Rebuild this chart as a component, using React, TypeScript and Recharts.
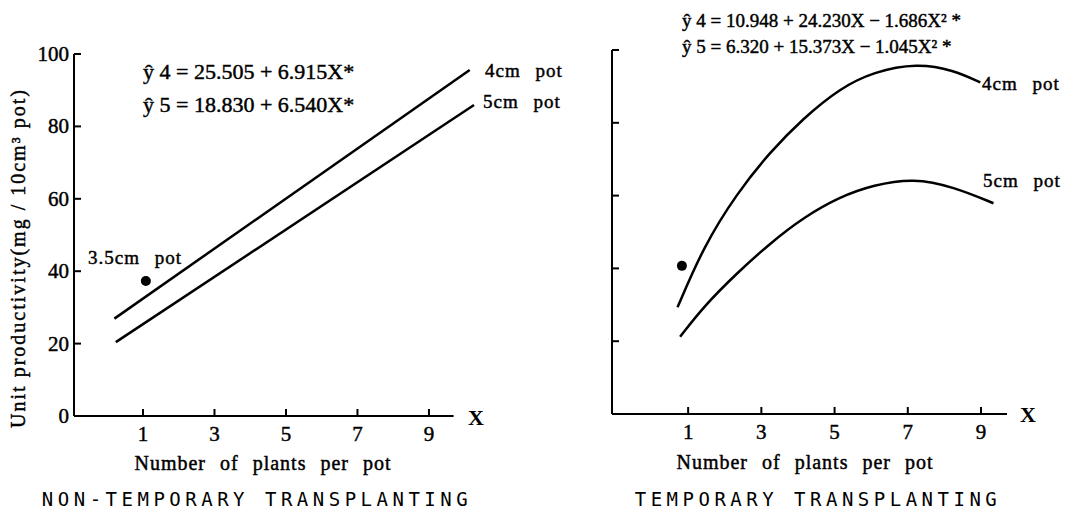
import { ComposedChart, Line, XAxis, YAxis, ReferenceLine, ReferenceDot } from 'recharts';

const serif = '"Liberation Serif", "DejaVu Serif", serif';
const mono = '"DejaVu Sans Mono", "Liberation Mono", monospace';

const xTicks = [1, 3, 5, 7, 9];
const yTicks = [0, 20, 40, 60, 80, 100];

// non-temporary transplanting (straight regression lines)
const nonTemp4 = [
  { x: 0.2, y: 26.9 },
  { x: 10.14, y: 95.6 },
];
const nonTemp5 = [
  { x: 0.24, y: 20.4 },
  { x: 10.26, y: 85.9 },
];
const nonTempDot = { x: 1.08, y: 37.3 };

// temporary transplanting (quadratic curves)
const temp4 = [
  { x: 0.71, y: 29.3 },
  { x: 1.42, y: 46.0 },
  { x: 2.33, y: 60.6 },
  { x: 3.24, y: 72.0 },
  { x: 4.15, y: 81.3 },
  { x: 5.15, y: 89.5 },
  { x: 6.06, y: 94.0 },
  { x: 7.25, y: 96.4 },
  { x: 8.25, y: 94.5 },
  { x: 8.98, y: 91.1 },
];
const temp5 = [
  { x: 0.78, y: 21.2 },
  { x: 1.42, y: 29.5 },
  { x: 2.33, y: 38.7 },
  { x: 3.24, y: 46.9 },
  { x: 4.15, y: 54.0 },
  { x: 5.15, y: 59.7 },
  { x: 6.06, y: 62.9 },
  { x: 7.16, y: 64.8 },
  { x: 8.25, y: 62.4 },
  { x: 9.34, y: 57.9 },
];
const tempDot = { x: 0.83, y: 40.7 };

const eqNonTemp = ['ŷ 4 = 25.505 + 6.915X*', 'ŷ 5 = 18.830 + 6.540X*'];
const eqTemp = ['ŷ 4 = 10.948 + 24.230X − 1.686X² *', 'ŷ 5 = 6.320 + 15.373X − 1.045X² *'];

// thin outline so the serif text looks as heavy as the scanned print
const ink = { stroke: '#000', strokeWidth: 0.45 };

const YTick = (p: any) => (
  <text x={p.x - 12} y={p.y} dy={7} textAnchor="end" fontFamily={serif} fontSize={21} fill="#000" {...ink}>
    {p.payload.value}
  </text>
);
const XTick = (p: any) => (
  <text x={p.x} y={p.y + 32} textAnchor="middle" fontFamily={serif} fontSize={21} fill="#000" {...ink}>
    {p.payload.value}
  </text>
);
const NoTick = () => <g />;

const lineProps = {
  dataKey: 'y',
  stroke: '#000',
  strokeWidth: 2.5,
  dot: false,
  isAnimationActive: false,
};

export default function App() {
  return (
    <div style={{ position: 'absolute', left: 0, top: 0, width: 1078, height: 515, background: '#fff' }}>
      <div style={{ position: 'absolute', left: 0, top: 0 }}>
        <ComposedChart width={540} height={515} margin={{ top: 54, right: 61, bottom: 69, left: 14 }}>
          <XAxis
            type="number"
            dataKey="x"
            domain={[-0.93, 10.4]}
            ticks={xTicks}
            height={30}
            axisLine={false}
            tickLine={{ stroke: '#000', strokeWidth: 2 }}
            tickSize={-7}
            tickMargin={0}
            tick={XTick}
          />
          <YAxis
            type="number"
            domain={[0, 100]}
            ticks={yTicks}
            width={60}
            axisLine={{ stroke: '#000', strokeWidth: 2 }}
            tickLine={{ stroke: '#000', strokeWidth: 2 }}
            tickSize={-7}
            tickMargin={0}
            tick={YTick}
          />
          <ReferenceLine
            segment={[{ x: -0.93, y: 0 }, { x: 9.69, y: 0 }]}
            stroke="#000"
            strokeWidth={2}
          />
          <Line type="linear" data={nonTemp4} {...lineProps} />
          <Line type="linear" data={nonTemp5} {...lineProps} />
          <ReferenceDot x={nonTempDot.x} y={nonTempDot.y} r={5} fill="#000" stroke="none" />
        </ComposedChart>
      </div>
      <div style={{ position: 'absolute', left: 540, top: 0 }}>
        <ComposedChart width={538} height={515} margin={{ top: 50, right: 71, bottom: 71, left: 12 }}>
          <XAxis
            type="number"
            dataKey="x"
            domain={[-1.08, 9.71]}
            ticks={xTicks}
            height={30}
            axisLine={{ stroke: '#000', strokeWidth: 2 }}
            tickLine={{ stroke: '#000', strokeWidth: 2 }}
            tickSize={-7}
            tickMargin={0}
            tick={XTick}
          />
          <YAxis
            type="number"
            domain={[0, 100]}
            ticks={yTicks}
            width={60}
            axisLine={{ stroke: '#000', strokeWidth: 2 }}
            tickLine={{ stroke: '#000', strokeWidth: 2 }}
            tickSize={-7}
            tickMargin={0}
            tick={NoTick}
          />
          <Line type="basis" data={temp4} {...lineProps} />
          <Line type="basis" data={temp5} {...lineProps} />
          <ReferenceDot x={tempDot.x} y={tempDot.y} r={5} fill="#000" stroke="none" />
        </ComposedChart>
      </div>
      <svg
        width={1078}
        height={515}
        style={{ position: 'absolute', left: 0, top: 0, pointerEvents: 'none' }}
        fontFamily={serif}
        fill="#000"
      >
        {/* left panel */}
        <text x={20} y={258} transform="rotate(-90, 20, 258)" textAnchor="middle" dominantBaseline="middle" fontSize={20} letterSpacing={2} {...ink}>
          Unit productivity(mg / 10cm³ pot)
        </text>
        <text x={143} y={79} fontSize={22} {...ink}>{eqNonTemp[0]}</text>
        <text x={143} y={112} fontSize={22} {...ink}>{eqNonTemp[1]}</text>
        <text x={485} y={77} fontSize={19} letterSpacing={1} wordSpacing={9} {...ink}>4cm pot</text>
        <text x={483} y={108} fontSize={19} letterSpacing={1} wordSpacing={9} {...ink}>5cm pot</text>
        <text x={88} y={264} fontSize={19} letterSpacing={1} wordSpacing={9} {...ink}>3.5cm pot</text>
        <text x={468} y={425} fontSize={22} fontWeight="bold">X</text>
        <text x={263} y={470} textAnchor="middle" fontSize={20} letterSpacing={1} wordSpacing={8} {...ink}>Number of plants per pot</text>
        <text x={257} y={506} textAnchor="middle" fontFamily={mono} fontSize={19} letterSpacing={4.5}>NON-TEMPORARY TRANSPLANTING</text>

        {/* right panel */}
        <text x={682} y={27} fontSize={19} {...ink}>{eqTemp[0]}</text>
        <text x={682} y={53} fontSize={19} {...ink}>{eqTemp[1]}</text>
        <text x={982} y={90} fontSize={19} letterSpacing={1} wordSpacing={9} {...ink}>4cm pot</text>
        <text x={983} y={187} fontSize={19} letterSpacing={1} wordSpacing={9} {...ink}>5cm pot</text>
        <text x={1020} y={422} fontSize={22} fontWeight="bold">X</text>
        <text x={805} y={469} textAnchor="middle" fontSize={20} letterSpacing={1} wordSpacing={8} {...ink}>Number of plants per pot</text>
        <text x={818} y={506} textAnchor="middle" fontFamily={mono} fontSize={19} letterSpacing={4.5}>TEMPORARY TRANSPLANTING</text>
      </svg>
    </div>
  );
}
